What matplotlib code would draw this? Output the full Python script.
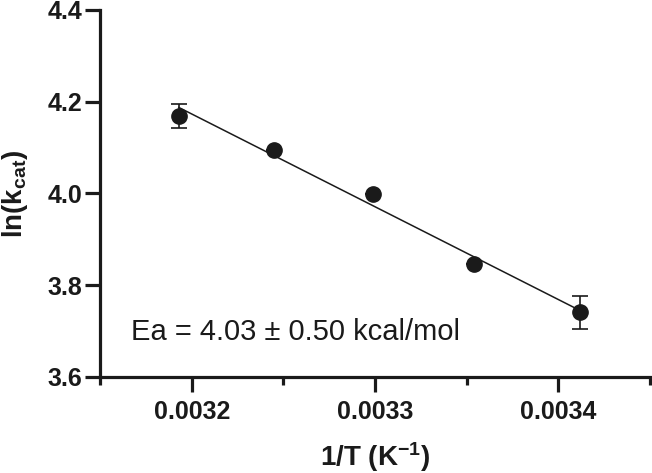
import numpy as np
import matplotlib
matplotlib.use("Agg")
from matplotlib import pyplot as plt
from matplotlib.ticker import MultipleLocator

plt.rcParams['font.family'] = ['Liberation Sans', 'DejaVu Sans']
plt.rcParams['mathtext.fontset'] = 'custom'
plt.rcParams['mathtext.rm'] = 'Liberation Sans:bold'
plt.rcParams['mathtext.it'] = 'Liberation Sans:bold'
plt.rcParams['mathtext.bf'] = 'Liberation Sans:bold'

# data
inv_T = [0.003193, 0.003245, 0.003299, 0.003354, 0.003412]
ln_kcat = [4.169, 4.095, 3.998, 3.846, 3.741]
ln_err = [0.027, 0.0, 0.0, 0.0, 0.036]
x_ticks = [0.0032, 0.0033, 0.0034]
y_ticks = [3.6, 3.8, 4.0, 4.2, 4.4]
note = "Ea = 4.03 ± 0.50 kcal/mol"

fig = plt.figure(figsize=(6.52, 4.73), dpi=100)
ax = fig.add_axes([0.1534, 0.203, 0.8436, 0.776])

x = np.array(inv_T)
y = np.array(ln_kcat)

# linear fit (Arrhenius)
m, b = np.polyfit(x, y, 1)
xf = np.array([x.min(), x.max()])
ax.plot(xf, m * xf + b, color='#1a1a1a', lw=1.1, zorder=2)

ax.errorbar(x, y, yerr=ln_err, fmt='o', color='#1a1a1a', ms=11,
            elinewidth=1.2, capsize=5.5, capthick=1.2, zorder=3)

ax.set_xlim(0.00315, 0.00345)
ax.set_ylim(3.6, 4.4)
ax.set_xticks(x_ticks)
ax.set_xticklabels([f"{t:.4f}" for t in x_ticks])
ax.xaxis.set_minor_locator(MultipleLocator(0.00005))
ax.set_yticks(y_ticks)
ax.set_yticklabels([f"{t:.1f}" for t in y_ticks])

for s in ['top', 'right']:
    ax.spines[s].set_visible(False)
for s in ['left', 'bottom']:
    ax.spines[s].set_linewidth(2.3)
    ax.spines[s].set_color('#1a1a1a')

ax.tick_params(axis='both', which='major', length=10.5, width=2.3,
               color='#1a1a1a', labelsize=18)
ax.tick_params(axis='x', which='minor', length=6, width=2.3, color='#1a1a1a')
ax.tick_params(axis='x', which='major', pad=6)
ax.tick_params(axis='y', which='major', pad=2)
for lab in ax.get_xticklabels() + ax.get_yticklabels():
    lab.set_fontweight('bold')
    lab.set_color('#1a1a1a')

ax.set_xlabel(r"1/T (K$^{-1}$)", fontsize=20, fontweight='bold', color='#1a1a1a')
ax.set_ylabel(r"ln(k$_{cat}$)", fontsize=20, fontweight='bold', color='#1a1a1a')
ax.xaxis.set_label_coords(0.5, -0.172)
ax.yaxis.set_label_coords(-0.128, 0.5)

ax.text(0.003167, 3.698, note, fontsize=21, va='center', ha='left', color='#1a1a1a')

fig.savefig("out.png", dpi=100)
